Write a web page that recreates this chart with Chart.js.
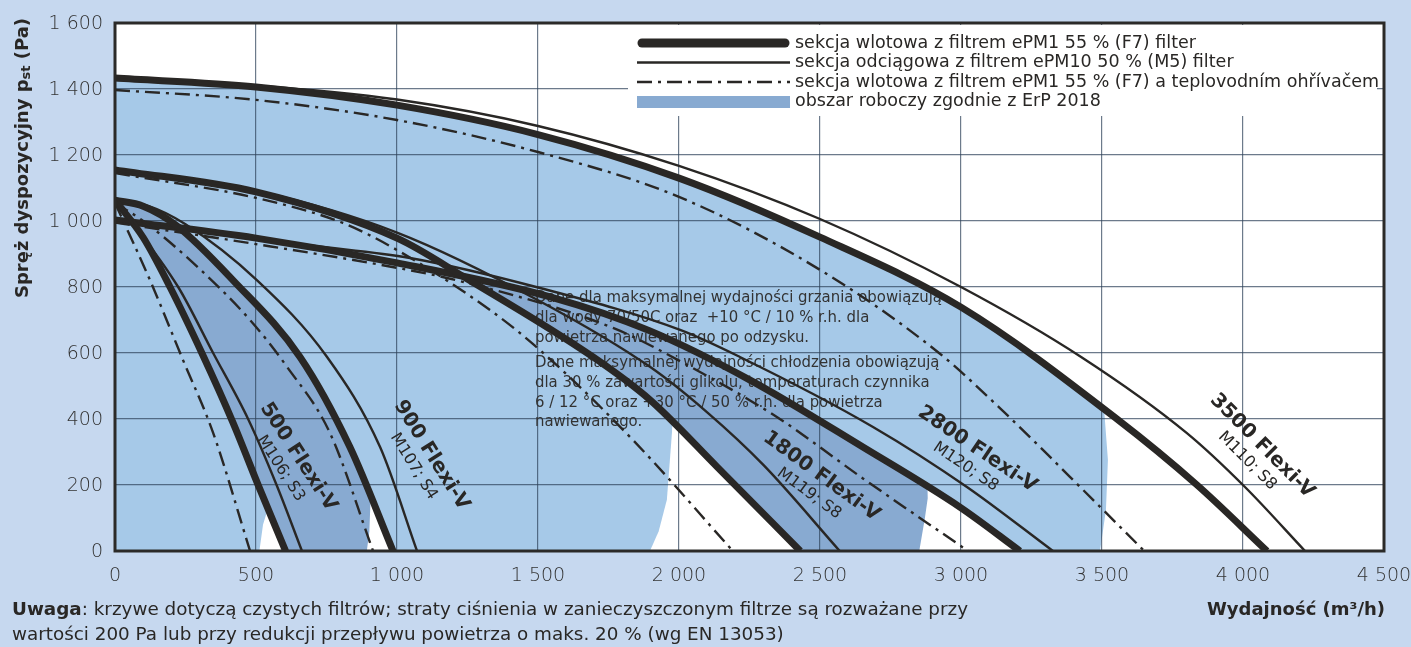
<!DOCTYPE html>
<html>
<head>
<meta charset="utf-8">
<script src="https://cdn.jsdelivr.net/npm/chart.js@4.4.1/dist/chart.umd.min.js"></script>
<style>
  html, body { margin: 0; padding: 0; background: #c6d8ef; overflow: hidden; }
  canvas { display: block; }
</style>
</head>
<body>
<canvas id="chart" width="1411" height="647"></canvas>
<script>
// osie
const xTickLabels = ['0', '500', '1 000', '1 500', '2 000', '2 500', '3 000', '3 500', '4 000', '4 500'];
const yTickLabels = ['0', '200', '400', '600', '800', '1 000', '1 200', '1 400', '1 600'];

// krzywe [m3/h, Pa] - supply = F7, exhaust = M5, heater = F7 + ohřívač
const m500Supply   = [[0, 1063], [100, 950], [195, 800], [308, 600], [418, 390], [510, 195], [605, 0]];
const m500Exhaust  = [[0, 1063], [224, 800], [348, 600], [472, 400], [573, 200], [663, 0]];
const m500Heater   = [[0, 1055], [124, 821], [241, 579], [348, 358], [479, 0]];

const m900Supply   = [[0, 1063], [100, 1045], [220, 985], [418, 821], [656, 588], [833, 315], [986, 0]];
const m900Exhaust  = [[0, 1063], [120, 1045], [250, 990], [503, 821], [752, 588], [940, 315], [1071, 0]];
const m900Heater   = [[0, 1055], [100, 1000], [277, 873], [479, 700], [610, 558], [762, 358], [915, 0]];

const m1800Supply  = [[0, 1155], [500, 1088], [1000, 948], [1248, 825], [1695, 588], [1897, 458], [2135, 255], [2430, 0]];
const m1800Exhaust = [[0, 1155], [500, 1092], [1000, 965], [1500, 760], [1897, 558], [2100, 420], [2300, 260], [2570, 0]];
const m1800Heater  = [[0, 1145], [500, 1070], [808, 994], [1000, 912], [1330, 730], [1507, 609], [1837, 336], [2191, 0]];

const m2800Supply  = [[0, 1003], [500, 948], [1000, 873], [1543, 770], [1897, 667], [2252, 518], [2652, 315], [2996, 133], [3209, 0]];
const m2800Exhaust = [[0, 1003], [300, 968], [700, 925], [1046, 888], [1507, 797], [2004, 670], [2216, 588], [2688, 376], [3021, 194], [3326, 0]];
const m2800Heater  = [[0, 995], [500, 930], [1000, 858], [1213, 820], [1766, 676], [2028, 564], [2347, 406], [2652, 220], [3025, 0]];

const m3500Supply  = [[0, 1433], [500, 1406], [1000, 1351], [1500, 1262], [2000, 1130], [2500, 951], [3000, 739], [3553, 400], [3837, 200], [4085, 0]];
const m3500Exhaust = [[0, 1428], [500, 1410], [1000, 1368], [1500, 1288], [2000, 1167], [2500, 1006], [3000, 800], [3426, 588], [3800, 358], [4007, 194], [4220, 0]];
const m3500Heater  = [[0, 1397], [500, 1367], [1000, 1306], [1500, 1209], [2000, 1073], [2500, 852], [2922, 600], [3138, 433], [3273, 321], [3433, 185], [3650, 0]];

// prawa granica obszaru ErP 2018 dla kazdego modelu
const erp500Edge  = [[552, 180], [543, 130], [525, 80], [512, 0]];
const erp900Edge  = [[900, 260], [906, 150], [902, 60], [893, 0]];
const erp1800Edge = [[1982, 470], [1975, 358], [1957, 155], [1928, 60], [1897, 0]];
const erp2800Edge = [[2880, 240], [2882, 160], [2872, 100], [2852, 0]];
const erp3500Edge = [[3503, 480], [3521, 276], [3514, 124], [3493, 0]];

const modelNames = ['500 Flexi-V', '900 Flexi-V', '1800 Flexi-V', '2800 Flexi-V', '3500 Flexi-V'];
const modelCodes = ['M106; S3', 'M107; S4', 'M119; S8', 'M120; S8', 'M110; S8'];

const legendTexts = [
    'sekcja wlotowa z filtrem ePM1 55 % (F7) filter',
    'sekcja odciągowa z filtrem ePM10 50 % (M5) filter',
    'sekcja wlotowa z filtrem ePM1 55 % (F7) a teplovodním ohřívačem',
    'obszar roboczy zgodnie z ErP 2018'
];
const noteLines = [
    'Dane dla maksymalnej wydajności grzania obowiązują',
    'dla wody 70/50C oraz  +10 °C / 10 % r.h. dla',
    'powietrza nawiewanego po odzysku.',
    'Dane maksymalnej wydajności chłodzenia obowiązują',
    'dla 30 % zawartości glikolu, temperaturach czynnika',
    '6 / 12 °C oraz +30 °C / 50 % r.h. dla powietrza',
    'nawiewanego.'
];

const INK = '#292725';
const LIGHT = '#a6c9e8';
const DARK = '#88aad1';
const PAGE = '#c6d8ef';
const FONT = "'DejaVu Sans', 'Noto Sans', sans-serif";

// polozenie etykiet modeli (w jednostkach osi) i ich kat
const labelPlaces = [
    {x: 650, y: 285, angle: 57},
    {x: 1122, y: 290, angle: 58},
    {x: 2505, y: 226, angle: 36},
    {x: 3058, y: 308, angle: 34},
    {x: 4068, y: 318, angle: 45}
];

const lineStyles = {
    supply:  {borderWidth: 7, borderDash: []},
    exhaust: {borderWidth: 2.4, borderDash: []},
    heater:  {borderWidth: 2.4, borderDash: [15, 6, 3, 6]}
};

const curves = [
    ['m500', 'heater', m500Heater], ['m500', 'exhaust', m500Exhaust], ['m500', 'supply', m500Supply],
    ['m900', 'heater', m900Heater], ['m900', 'exhaust', m900Exhaust], ['m900', 'supply', m900Supply],
    ['m1800', 'heater', m1800Heater], ['m1800', 'exhaust', m1800Exhaust], ['m1800', 'supply', m1800Supply],
    ['m2800', 'heater', m2800Heater], ['m2800', 'exhaust', m2800Exhaust], ['m2800', 'supply', m2800Supply],
    ['m3500', 'heater', m3500Heater], ['m3500', 'exhaust', m3500Exhaust], ['m3500', 'supply', m3500Supply]
];

const datasets = curves.map(([model, kind, pts]) => ({
    label: model + '-' + kind,
    data: pts.map(p => ({x: p[0], y: p[1]})),
    borderColor: INK,
    borderWidth: lineStyles[kind].borderWidth,
    borderDash: lineStyles[kind].borderDash,
    borderCapStyle: 'butt',
    cubicInterpolationMode: 'monotone',
    pointRadius: 0,
    fill: false
}));

const idx = name => datasets.findIndex(d => d.label === name);

// warstwy obszarow: od najwiekszego modelu
const areaLayers = [
    {curve: 'm3500-supply', color: LIGHT, edge: erp3500Edge},
    {curve: 'm2800-supply', color: '#ffffff'},
    {curve: 'm2800-supply', color: DARK, edge: erp2800Edge},
    {curve: 'm1800-supply', color: '#ffffff'},
    {curve: 'm1800-supply', color: LIGHT, edge: erp1800Edge},
    {curve: 'm900-supply', color: '#ffffff'},
    {curve: 'm900-supply', color: DARK, edge: erp900Edge},
    {curve: 'm500-supply', color: '#ffffff'},
    {curve: 'm500-supply', color: LIGHT, edge: erp500Edge}
];

function drawText(ctx, parts, x, y, width, align) {
    let w = 0;
    parts.forEach(p => { ctx.font = p.font; p.w = ctx.measureText(p.t).width; w += p.w; });
    const sx = width ? width / w : 1;
    const x0 = align === 'right' ? x - w * sx : align === 'center' ? x - w * sx / 2 : x;
    ctx.save();
    ctx.translate(x0, y);
    ctx.scale(sx, 1);
    ctx.textAlign = 'left';
    ctx.textBaseline = 'middle';
    let cx = 0;
    parts.forEach(p => { ctx.font = p.font; ctx.fillText(p.t, cx, p.dy || 0); cx += p.w; });
    ctx.restore();
    return sx;
}

function fillUnder(chart, layer) {
    const ctx = chart.ctx;
    const area = chart.chartArea;
    const xs = chart.scales.x;
    const ys = chart.scales.y;
    const line = chart.getDatasetMeta(idx(layer.curve)).dataset;
    line.updateControlPoints(area, 'x');
    const pts = line.points;
    const y0 = ys.getPixelForValue(0);
    ctx.save();
    if (layer.edge) {
        const e = layer.edge;
        ctx.beginPath();
        ctx.moveTo(area.left - 10, area.top);
        ctx.lineTo(xs.getPixelForValue(e[0][0]), area.top);
        e.forEach(p => ctx.lineTo(xs.getPixelForValue(p[0]), ys.getPixelForValue(p[1])));
        ctx.lineTo(area.left - 10, y0);
        ctx.closePath();
        ctx.clip();
    }
    ctx.beginPath();
    line.path(ctx);
    ctx.lineTo(pts[pts.length - 1].x, y0);
    ctx.lineTo(pts[0].x, y0);
    ctx.closePath();
    ctx.fillStyle = layer.color;
    ctx.fill();
    ctx.restore();
}

const backgroundPlugin = {
    id: 'areas',
    beforeDraw(chart) {
        const ctx = chart.ctx;
        const a = chart.chartArea;
        ctx.save();
        ctx.fillStyle = PAGE;
        ctx.fillRect(0, 0, chart.width, chart.height);
        ctx.fillStyle = '#ffffff';
        ctx.fillRect(a.left, a.top, a.right - a.left, a.bottom - a.top);
        ctx.restore();
        areaLayers.forEach(l => fillUnder(chart, l));
    },
    beforeDatasetsDraw(chart) {
        const ctx = chart.ctx;
        ctx.save();
        // ramka legendy zaslania siatke
        ctx.fillStyle = '#ffffff';
        ctx.fillRect(628, 25, 749, 91);
        // legenda
        ctx.strokeStyle = INK;
        ctx.lineWidth = 9;
        ctx.lineCap = 'round';
        ctx.beginPath(); ctx.moveTo(642, 43); ctx.lineTo(785, 43); ctx.stroke();
        ctx.lineCap = 'butt';
        ctx.lineWidth = 2.6;
        ctx.beginPath(); ctx.moveTo(637, 62.5); ctx.lineTo(790, 62.5); ctx.stroke();
        ctx.setLineDash([15, 6, 3, 6]);
        ctx.beginPath(); ctx.moveTo(637, 82); ctx.lineTo(790, 82); ctx.stroke();
        ctx.setLineDash([]);
        ctx.fillStyle = DARK;
        ctx.fillRect(637, 96, 153, 12);
        ctx.fillStyle = INK;
        const legendY = [43, 62.5, 82, 101];
        ctx.font = '18px ' + FONT;
        const sx = 401 / ctx.measureText(legendTexts[0]).width;
        legendTexts.forEach((t, i) => {
            ctx.font = '18px ' + FONT;
            drawText(ctx, [{t: t, font: '18px ' + FONT}], 795, legendY[i], ctx.measureText(t).width * sx, 'left');
        });
        // opis w srodku wykresu
        ctx.fillStyle = '#333333';
        ctx.font = '15px ' + FONT;
        const nsx = 407 / ctx.measureText(noteLines[0]).width;
        const noteY = [298, 318, 338, 363, 383, 403, 422];
        noteLines.forEach((t, i) => {
            ctx.font = '15px ' + FONT;
            drawText(ctx, [{t: t, font: '15px ' + FONT}], 535, noteY[i], ctx.measureText(t).width * nsx, 'left');
        });
        ctx.restore();
    },
    afterDatasetsDraw(chart) {
        const ctx = chart.ctx;
        const a = chart.chartArea;
        const xs = chart.scales.x;
        const ys = chart.scales.y;
        ctx.save();
        ctx.fillStyle = INK;
        ctx.textAlign = 'center';
        ctx.textBaseline = 'middle';
        labelPlaces.forEach((p, i) => {
            ctx.save();
            ctx.translate(xs.getPixelForValue(p.x), ys.getPixelForValue(p.y));
            ctx.rotate(p.angle * Math.PI / 180);
            ctx.font = 'bold 20px ' + FONT;
            ctx.fillText(modelNames[i], 0, 0);
            ctx.font = '16px ' + FONT;
            ctx.fillText(modelCodes[i], 0, 21);
            ctx.restore();
        });
        // ramka
        ctx.strokeStyle = '#2b2a28';
        ctx.lineWidth = 3;
        ctx.strokeRect(a.left, a.top, a.right - a.left, a.bottom - a.top);
        ctx.restore();
    },
    afterDraw(chart) {
        const ctx = chart.ctx;
        const xs = chart.scales.x;
        const ys = chart.scales.y;
        ctx.save();
        ctx.fillStyle = '#333333';
        // etykiety osi
        ys.ticks.forEach((t, i) => {
            drawText(ctx, [{t: yTickLabels[i], font: '300 19px ' + FONT}], 103, ys.getPixelForValue(t.value) + 1, 0, 'right');
        });
        xs.ticks.forEach((t, i) => {
            drawText(ctx, [{t: xTickLabels[i], font: '300 19px ' + FONT}], xs.getPixelForValue(t.value), 576, 0, 'center');
        });
        ctx.fillStyle = INK;
        // tytul osi y
        ctx.save();
        ctx.translate(23, 158);
        ctx.rotate(-Math.PI / 2);
        drawText(ctx, [
            {t: 'Spręż dyspozycyjny p', font: 'bold 18px ' + FONT},
            {t: 'st', font: 'bold 13px ' + FONT, dy: 4},
            {t: ' (Pa)', font: 'bold 18px ' + FONT}
        ], 0, 0, 280, 'center');
        ctx.restore();
        // tytul osi x
        drawText(ctx, [{t: 'Wydajność (m³/h)', font: 'bold 17px ' + FONT}], 1385, 611, 178, 'right');
        // uwaga
        ctx.font = '17px ' + FONT;
        const line1 = [
            {t: 'Uwaga', font: 'bold 17px ' + FONT},
            {t: ': krzywe dotyczą czystych filtrów; straty ciśnienia w zanieczyszczonym filtrze są rozważane przy', font: '17px ' + FONT}
        ];
        const usx = drawText(ctx, line1, 12, 611, 956, 'left');
        const l2 = 'wartości 200 Pa lub przy redukcji przepływu powietrza o maks. 20 % (wg EN 13053)';
        ctx.font = '17px ' + FONT;
        drawText(ctx, [{t: l2, font: '17px ' + FONT}], 12, 636, ctx.measureText(l2).width * usx, 'left');
        ctx.restore();
    }
};

new Chart(document.getElementById('chart').getContext('2d'), {
    type: 'line',
    data: {datasets: datasets},
    options: {
        responsive: false,
        animation: false,
        devicePixelRatio: 1,
        layout: {padding: {top: 23, right: 27, left: 0, bottom: 0}},
        plugins: {legend: {display: false}, tooltip: {enabled: false}},
        scales: {
            x: {
                type: 'linear',
                min: 0,
                max: 4500,
                afterFit: s => { s.height = 96; },
                ticks: {stepSize: 500, display: false},
                grid: {color: 'rgba(45, 65, 90, 0.7)', lineWidth: 1.2, drawTicks: false},
                border: {display: false}
            },
            y: {
                min: 0,
                max: 1600,
                afterFit: s => { s.width = 115; },
                ticks: {stepSize: 200, display: false},
                grid: {color: 'rgba(45, 65, 90, 0.7)', lineWidth: 1.2, drawTicks: false},
                border: {display: false}
            }
        }
    },
    plugins: [backgroundPlugin]
});
</script>
</body>
</html>
